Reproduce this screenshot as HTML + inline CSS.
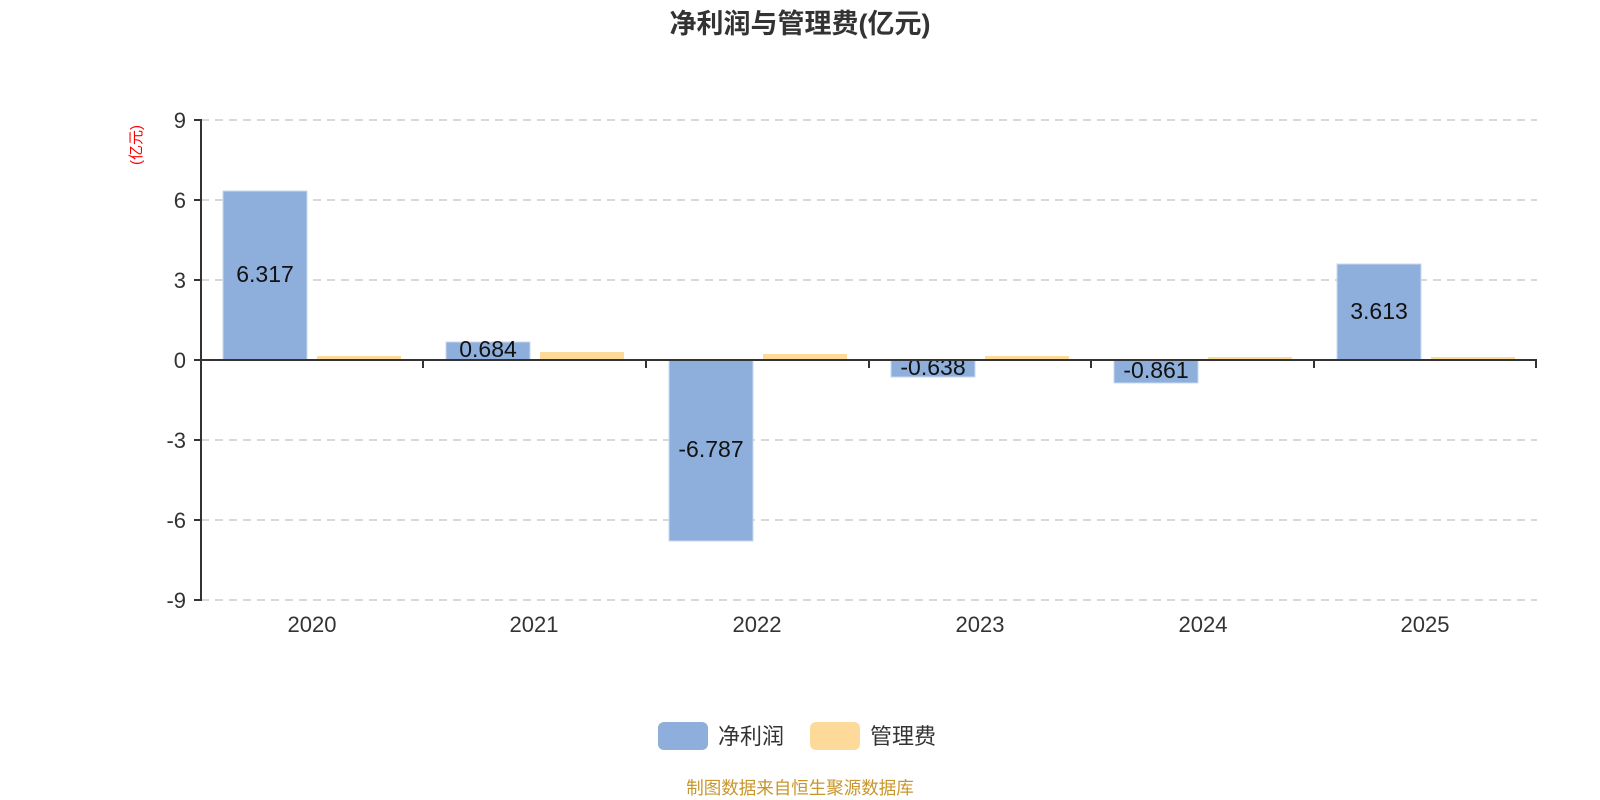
<!DOCTYPE html>
<html><head><meta charset="utf-8"><style>
html,body{margin:0;padding:0;background:#fff;}
svg{display:block;font-family:"Liberation Sans","Noto Sans CJK SC",sans-serif;}
</style></head><body>
<svg width="1600" height="800" viewBox="0 0 1600 800">
<text x="800" y="33" text-anchor="middle" font-size="27" font-weight="bold" fill="#333">净利润与管理费(亿元)</text>
<g stroke="#ccc" stroke-width="1.5" stroke-dasharray="8,6">
<line x1="201" y1="120" x2="1537" y2="120"/>
<line x1="201" y1="200" x2="1537" y2="200"/>
<line x1="201" y1="280" x2="1537" y2="280"/>
<line x1="201" y1="440" x2="1537" y2="440"/>
<line x1="201" y1="520" x2="1537" y2="520"/>
<line x1="201" y1="600" x2="1537" y2="600"/>
</g>
<g fill="#8eaedb" stroke="#c8d8ef" stroke-width="1">
<rect x="223" y="191" width="84" height="169"/>
<rect x="446" y="342" width="84" height="18"/>
<rect x="669" y="360" width="84" height="181"/>
<rect x="891" y="360" width="84" height="17"/>
<rect x="1114" y="360" width="84" height="23"/>
<rect x="1337" y="264" width="84" height="96"/>
</g>
<g fill="#fdd99a">
<rect x="317" y="356" width="84" height="4"/>
<rect x="540" y="352" width="84" height="8"/>
<rect x="763" y="354" width="84" height="6"/>
<rect x="985" y="356" width="84" height="4"/>
<rect x="1208" y="357" width="84" height="3"/>
<rect x="1431" y="357" width="84" height="3"/>
</g>
<g font-size="23" fill="#111" text-anchor="middle">
<text x="265" y="282">6.317</text>
<text x="488" y="357">0.684</text>
<text x="711" y="457">-6.787</text>
<text x="933" y="375">-0.638</text>
<text x="1156" y="378">-0.861</text>
<text x="1379" y="319">3.613</text>
</g>
<g stroke="#333" stroke-width="2">
<line x1="201" y1="119" x2="201" y2="601"/>
<line x1="194" y1="120" x2="201" y2="120"/>
<line x1="194" y1="200" x2="201" y2="200"/>
<line x1="194" y1="280" x2="201" y2="280"/>
<line x1="194" y1="360" x2="201" y2="360"/>
<line x1="194" y1="440" x2="201" y2="440"/>
<line x1="194" y1="520" x2="201" y2="520"/>
<line x1="194" y1="600" x2="201" y2="600"/>
<line x1="200" y1="360" x2="1537" y2="360"/>
<line x1="423" y1="360" x2="423" y2="368"/>
<line x1="646" y1="360" x2="646" y2="368"/>
<line x1="869" y1="360" x2="869" y2="368"/>
<line x1="1091" y1="360" x2="1091" y2="368"/>
<line x1="1314" y1="360" x2="1314" y2="368"/>
<line x1="1536" y1="360" x2="1536" y2="368"/>
</g>
<g font-size="22" fill="#333" text-anchor="end">
<text x="186" y="128">9</text>
<text x="186" y="208">6</text>
<text x="186" y="288">3</text>
<text x="186" y="368">0</text>
<text x="186" y="448">-3</text>
<text x="186" y="528">-6</text>
<text x="186" y="608">-9</text>
</g>
<g font-size="22" fill="#333" text-anchor="middle">
<text x="312" y="632">2020</text>
<text x="534" y="632">2021</text>
<text x="757" y="632">2022</text>
<text x="980" y="632">2023</text>
<text x="1203" y="632">2024</text>
<text x="1425" y="632">2025</text>
</g>
<text transform="translate(141,145) rotate(-90)" text-anchor="middle" font-size="15" fill="#f00">(亿元)</text>
<rect x="658" y="722" width="50" height="28" rx="6" fill="#8eaedb"/>
<text x="718" y="744" font-size="22" fill="#333">净利润</text>
<rect x="810" y="722" width="50" height="28" rx="6" fill="#fdd99a"/>
<text x="870" y="744" font-size="22" fill="#333">管理费</text>
<text x="800" y="794" text-anchor="middle" font-size="17.5" fill="#c8962a">制图数据来自恒生聚源数据库</text>
</svg>
</body></html>
